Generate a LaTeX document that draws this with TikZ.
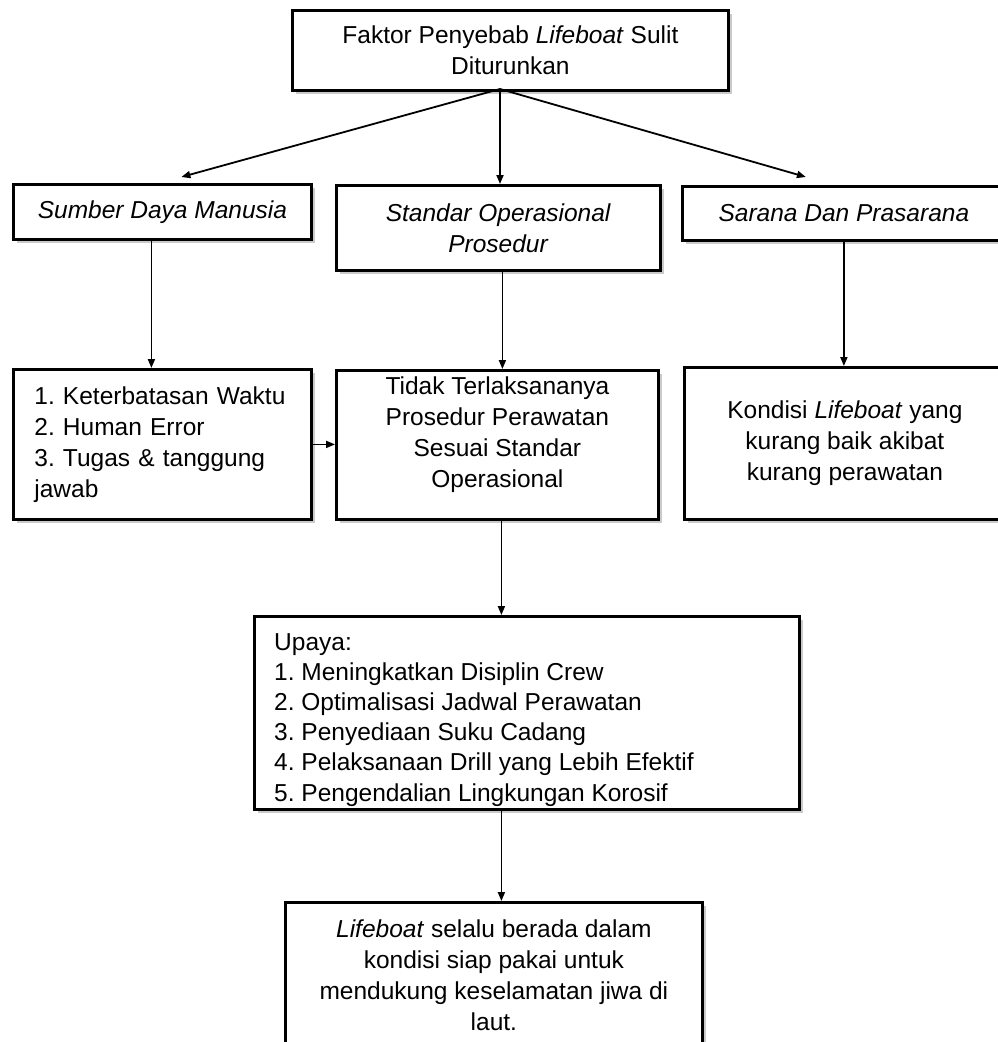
\documentclass[tikz,border=0pt]{standalone}
\usepackage{fontspec}
\setmainfont{Liberation Sans}
\frenchspacing
\usetikzlibrary{arrows.meta, positioning, calc, shadows}

\begin{document}
\begin{tikzpicture}[
  x=1pt, y=-1pt,
  box/.style = {draw, line width=2.8pt, fill=white, anchor=north west, inner sep=0pt,
    align=center, font=\fontsize{24.5}{31}\selectfont,
    drop shadow={shadow xshift=4pt, shadow yshift=-4pt, opacity=0.35, fill=black!60}},
  listbox/.style = {box, align=left, inner xsep=21pt},
  boxtext/.style = {inner sep=0pt, font=\fontsize{24.5}{31}\selectfont},
  arrow/.style = {line width=1.8pt, -{Triangle[length=9pt, width=7pt]}}
]
\useasboundingbox (0,0) rectangle (998,1042);

  % Faktor penyebab
  \node[box, minimum width=436pt, minimum height=80pt] (top) at (291,9)
    {Faktor Penyebab \textit{Lifeboat} Sulit\\Diturunkan};

  % Kategori
  \node[box, minimum width=298pt, minimum height=55pt] (sdm) at (12,183)
    {\textit{Sumber Daya Manusia}};
  \node[box, minimum width=324pt, minimum height=85pt] (sop) at (335,184)
    {\textit{Standar Operasional}\\\textit{Prosedur}};
  \node[box, minimum width=323pt, minimum height=54pt] (sdp) at (681,185)
    {\textit{Sarana Dan Prasarana}};

  % Penjelasan
  \node[listbox, text width=256pt, minimum height=150pt] (faktor) at (12,368)
    {1. Keterbatasan Waktu\\2. Human Error\\3. Tugas \& tanggung\\jawab};
  \node[box, minimum width=322pt, minimum height=149pt] (proses) at (335,369) {};
  \node[boxtext, below=8pt of proses.north, align=center] (prosestext)
    {Tidak Terlaksananya\\Prosedur Perawatan\\Sesuai Standar\\Operasional};
  \node[box, minimum width=321pt, minimum height=152pt] (kondisi) at (683,366)
    {Kondisi \textit{Lifeboat} yang\\kurang baik akibat\\kurang perawatan};

  % Upaya
  \node[box, minimum width=545pt, minimum height=193pt] (upaya) at (253,615) {};
  \node[boxtext, font=\fontsize{24.5}{30.2}\selectfont, anchor=north west, align=left]
    (upayatext) at ($(upaya.north west)+(21,18)$)
    {Upaya:\\1. Meningkatkan Disiplin Crew\\2. Optimalisasi Jadwal Perawatan\\3. Penyediaan Suku Cadang\\4. Pelaksanaan Drill yang Lebih Efektif\\5. Pengendalian Lingkungan Korosif};

  % Hasil
  \node[box, minimum width=417pt, minimum height=146pt] (hasil) at (284,901)
    {\textit{Lifeboat} selalu berada dalam\\kondisi siap pakai untuk\\mendukung keselamatan jiwa di\\laut.};

  % top -> kategori
  \coordinate (topout) at (500,89);
  \draw[arrow] (topout) -- ($(sdm.north)+(19,-6)$);
  \draw[arrow] (topout) -- (topout |- sop.north);
  \draw[arrow] (topout) -- ($(sdp.north)+(-38,-8)$);

  % kategori -> penjelasan
  \draw[arrow] ([xshift=-11pt]sdm.south) -- ([xshift=-11pt]faktor.north);
  \draw[arrow] ([xshift=4pt]sop.south) -- ([xshift=4pt]sop.south |- proses.north);
  \draw[arrow] (sdp.south) -- (sdp.south |- kondisi.north);
  \draw[arrow] (faktor.east) -- (faktor.east -| proses.west);

  % penjelasan -> upaya -> hasil
  \draw[arrow] ([xshift=4pt]proses.south) -- ([xshift=4pt]proses.south |- upaya.north);
  \draw[arrow] ([xshift=4pt]proses.south |- upaya.south) -- ([xshift=4pt]proses.south |- hasil.north);

\end{tikzpicture}
\end{document}
